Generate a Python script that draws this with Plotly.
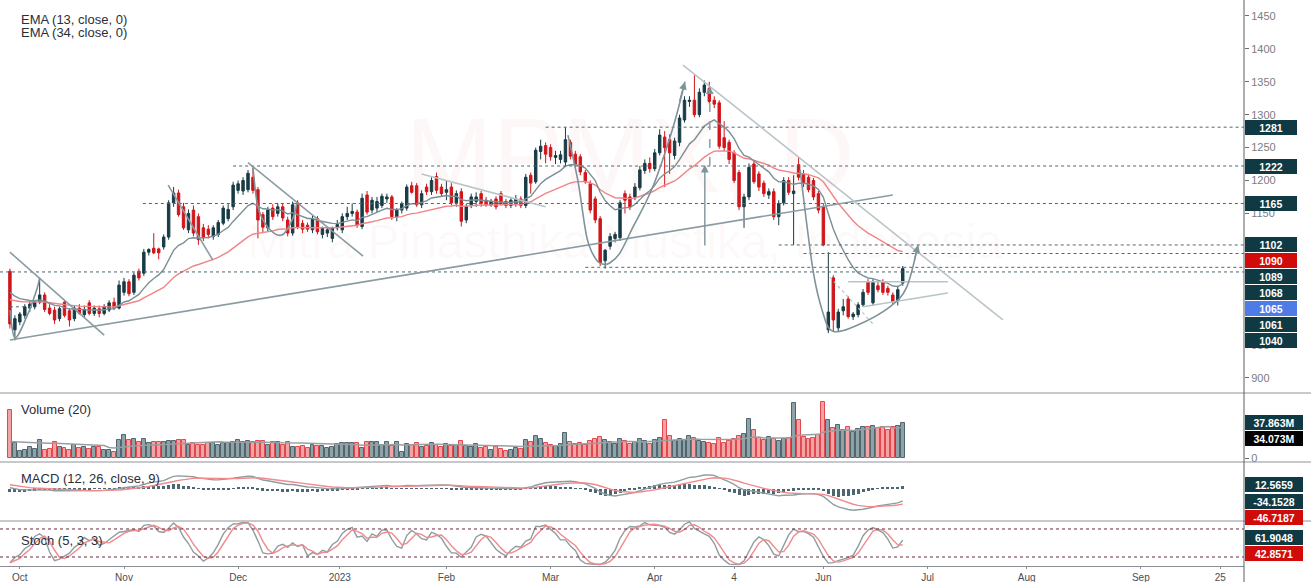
import numpy as np
import pandas as pd
import plotly.graph_objects as go

# ---------------- data ----------------
open_ = [1062, 973, 985, 995, 1006, 1008, 1015, 1026, 1006, 1003, 990, 1015, 1002, 990, 1006, 996, 1014, 998, 1005, 998,
         1003, 1015, 1006, 1030, 1046, 1030, 1062, 1059, 1091, 1097, 1096, 1099, 1114, 1166, 1181, 1160, 1125, 1155, 1145, 1128,
         1126, 1115, 1118, 1135, 1142, 1160, 1185, 1184, 1186, 1205, 1186, 1148, 1128, 1158, 1150, 1160, 1140, 1120, 1166, 1135,
         1132, 1125, 1142, 1118, 1120, 1112, 1128, 1125, 1145, 1150, 1152, 1130, 1178, 1155, 1158, 1162, 1172, 1175, 1145, 1155,
         1158, 1192, 1192, 1163, 1190, 1183, 1206, 1190, 1182, 1190, 1166, 1183, 1140, 1163, 1168, 1180, 1170, 1163, 1172, 1180,
         1168, 1162, 1165, 1172, 1162, 1208, 1198, 1244, 1253, 1250, 1235, 1232, 1228, 1258, 1240, 1236, 1212, 1195, 1172, 1142,
         1078, 1100, 1112, 1113, 1180, 1175, 1175, 1189, 1215, 1226, 1218, 1242, 1266, 1262, 1238, 1258, 1292, 1320, 1322, 1300,
         1334, 1340, 1322, 1318, 1265, 1258, 1242, 1212, 1160, 1175, 1225, 1210, 1196, 1178, 1183, 1145, 1166, 1200, 1180, 1224,
         1210, 1205, 1200, 1180, 1160, 973, 1052, 976, 1002, 1020, 993, 996, 1011, 1046, 1014, 1040, 1046, 1036, 1026, 1018,
         1044]
high = [1066, 995, 1000, 1012, 1018, 1018, 1052, 1030, 1012, 1008, 1008, 1018, 1006, 1010, 1012, 1010, 1018, 1010, 1010, 1012,
        1018, 1022, 1048, 1052, 1050, 1060, 1066, 1096, 1097, 1120, 1098, 1118, 1170, 1190, 1186, 1166, 1156, 1162, 1150, 1134,
        1132, 1132, 1140, 1162, 1164, 1198, 1200, 1205, 1216, 1222, 1190, 1152, 1160, 1164, 1166, 1165, 1145, 1168, 1170, 1140,
        1136, 1146, 1146, 1130, 1128, 1130, 1140, 1150, 1160, 1165, 1156, 1180, 1184, 1175, 1175, 1180, 1180, 1178, 1158, 1168,
        1194, 1198, 1196, 1185, 1195, 1205, 1212, 1195, 1200, 1196, 1185, 1188, 1165, 1180, 1182, 1184, 1175, 1172, 1176, 1184,
        1172, 1175, 1178, 1176, 1210, 1212, 1250, 1262, 1258, 1255, 1245, 1245, 1281, 1262, 1245, 1240, 1216, 1200, 1176, 1146,
        1096, 1120, 1122, 1170, 1185, 1180, 1196, 1222, 1232, 1235, 1248, 1278, 1275, 1270, 1265, 1300, 1328, 1328, 1360, 1340,
        1352, 1350, 1328, 1322, 1290, 1262, 1246, 1216, 1180, 1226, 1230, 1214, 1200, 1188, 1188, 1170, 1205, 1205, 1208, 1236,
        1216, 1210, 1204, 1184, 1164, 1091, 1056, 1005, 1020, 1024, 1000, 1015, 1035, 1050, 1050, 1046, 1050, 1040, 1030, 1040,
        1070]
low = [975, 957, 980, 990, 1000, 1004, 1012, 1000, 995, 982, 986, 992, 978, 986, 996, 992, 995, 994, 992, 995,
       1000, 1003, 1004, 1025, 1024, 1026, 1048, 1055, 1086, 1088, 1080, 1095, 1110, 1160, 1145, 1125, 1120, 1115, 1102, 1108,
       1112, 1110, 1114, 1132, 1138, 1155, 1180, 1178, 1182, 1180, 1112, 1120, 1122, 1140, 1145, 1138, 1115, 1116, 1126, 1120,
       1122, 1120, 1118, 1112, 1114, 1106, 1124, 1120, 1140, 1145, 1128, 1126, 1148, 1150, 1152, 1158, 1166, 1140, 1138, 1150,
       1154, 1180, 1160, 1158, 1178, 1178, 1180, 1176, 1170, 1162, 1160, 1130, 1135, 1158, 1160, 1160, 1160, 1160, 1156, 1162,
       1158, 1158, 1160, 1158, 1158, 1180, 1195, 1232, 1226, 1230, 1225, 1226, 1222, 1232, 1220, 1208, 1195, 1150, 1135, 1070,
       1066, 1095, 1106, 1108, 1150, 1155, 1170, 1185, 1210, 1212, 1214, 1238, 1190, 1210, 1232, 1252, 1288, 1312, 1296, 1296,
       1328, 1316, 1310, 1248, 1245, 1225, 1196, 1155, 1128, 1170, 1195, 1184, 1175, 1172, 1140, 1132, 1162, 1178, 1102, 1200,
       1190, 1182, 1170, 1150, 1100, 968, 970, 970, 995, 990, 988, 992, 1008, 1026, 1010, 1030, 1026, 1025, 1012, 1010,
       1040]
close = [982, 990, 997, 1008, 1012, 1015, 1026, 1004, 998, 988, 1005, 995, 988, 1006, 998, 1004, 998, 1006, 998, 1008,
         1014, 1006, 1041, 1046, 1028, 1056, 1052, 1091, 1095, 1090, 1090, 1114, 1166, 1181, 1148, 1128, 1150, 1120, 1110, 1113,
         1118, 1128, 1136, 1158, 1156, 1193, 1195, 1200, 1211, 1185, 1140, 1129, 1155, 1145, 1160, 1143, 1120, 1163, 1130, 1126,
         1126, 1142, 1122, 1128, 1125, 1128, 1133, 1145, 1150, 1153, 1132, 1173, 1152, 1170, 1168, 1176, 1175, 1145, 1155, 1165,
         1190, 1182, 1163, 1180, 1183, 1200, 1185, 1180, 1186, 1166, 1180, 1138, 1160, 1175, 1175, 1165, 1163, 1168, 1160, 1165,
         1162, 1170, 1172, 1162, 1205, 1196, 1246, 1252, 1240, 1236, 1238, 1239, 1262, 1237, 1225, 1213, 1198, 1155, 1140, 1075,
         1094, 1115, 1118, 1166, 1170, 1160, 1190, 1216, 1226, 1218, 1242, 1269, 1250, 1242, 1260, 1295, 1322, 1322, 1300, 1334,
         1345, 1320, 1316, 1252, 1250, 1232, 1200, 1160, 1175, 1220, 1198, 1190, 1180, 1183, 1145, 1165, 1200, 1182, 1184, 1205,
         1196, 1186, 1175, 1155, 1102, 1000, 988, 1000, 1008, 993, 997, 1011, 1030, 1030, 1045, 1034, 1030, 1030, 1016, 1034,
         1066]
volume_m = [52, 15.8, 7.9, 8.6, 11.5, 9.4, 19.5, 8.6, 10, 17.6, 12.2, 10.4, 8.6, 14, 10.4, 12.2, 9.4, 11.5, 11.5, 8.6,
            8.6, 6.8, 19.5, 25, 19.5, 21, 17.6, 20, 15.8, 17.6, 17.6, 17.6, 18.7, 18.7, 19.5, 19.5, 14, 16.5, 14, 14,
            15.8, 15.8, 14, 16.5, 16.5, 17.6, 19.5, 17.6, 18.7, 17.6, 18.7, 18.3, 14, 16.8, 16.8, 14, 16.8, 12.2, 12.2, 13,
            10.4, 14, 13, 13.3, 10.4, 11.5, 14.8, 15.8, 15.8, 15.8, 16.5, 10.4, 17.6, 17.6, 17.6, 14, 17.6, 13, 17.6, 6,
            15, 14, 16, 12, 13, 16, 14, 12, 15, 13, 14, 18, 13, 12, 15, 11, 12, 9, 12, 10,
            8, 9, 11, 10, 19, 17, 24, 20, 16, 14, 13, 15, 27, 17, 15, 16, 14, 18, 20, 23,
            19, 17, 15, 21, 18, 15, 17, 20, 18, 15, 19, 22, 41, 24, 18, 21, 19, 24, 22, 18,
            17, 16, 15, 22, 16, 18, 20, 24, 26, 42, 30, 22, 19, 23, 20, 18, 21, 22, 59, 41,
            23, 20, 22, 25, 61, 41, 32, 36, 30, 33, 28, 31, 34, 33, 35, 32, 34, 30, 33, 35,
            38]

tick_pos = [2, 23, 46, 66.5, 88, 109, 130, 146, 164, 185, 205, 228, 244]
tick_text = ["Oct", "Nov", "Dec", "2023", "Feb", "Mar", "Apr", "4", "Jun", "Jul", "Aug", "Sep", "25"]

# indicator values just before the first bar
ema13_start, ema34_start = 1038, 1021
ema12_start, ema26_start, signal_start = 1034, 1026, 14
vol_ma_start = 16

# right-axis labels
price_label_text = ["1281", "1222", "1165", "1102", "1090", "1089", "1068", "1065", "1061", "1040"]
price_label_val = [1281, 1222, 1165, 1102, 1090, 1089, 1068, 1065, 1061, 1040]
price_label_kind = ["d", "d", "d", "d", "r", "d", "d", "b", "d", "d"]
vol_label_text = ["37.863M", "34.073M"]
vol_label_val = [37.863, 34.073]
vol_label_kind = ["d", "k"]
macd_label_text = ["12.5659", "-34.1528", "-46.7187"]
macd_label_val = [12.5659, -34.1528, -46.7187]
macd_label_kind = ["d", "d", "r"]
stoch_label_text = ["61.9048", "42.8571"]
stoch_label_val = [61.9048, 42.8571]
stoch_label_kind = ["d", "r"]

# horizontal levels (start bar, price)
levels = [(108, 1281), (45, 1222), (26.8, 1165), (155, 1102), (160, 1089), (116, 1068), (-2, 1061)]

# ---------------- derived ----------------
n = len(close)
idx = np.arange(n)


def ema(vals, period, prev):
    a = 2.0 / (period + 1)
    out, e = [], prev
    for v in vals:
        e = e + a * (v - e)
        out.append(e)
    return np.array(out)


c = np.array(close, float)
ema13 = ema(c, 13, ema13_start)
ema34 = ema(c, 34, ema34_start)
macd = ema(c, 12, ema12_start) - ema(c, 26, ema26_start)
signal = ema(macd, 9, signal_start)
hist = macd - signal

hs, ls, cs = pd.Series(high, dtype=float), pd.Series(low, dtype=float), pd.Series(close, dtype=float)
hh = hs.rolling(5, min_periods=1).max()
ll = ls.rolling(5, min_periods=1).min()
raw_k = 100 * (cs - ll) / (hh - ll)
stoch_k = raw_k.rolling(3, min_periods=1).mean()
stoch_d = stoch_k.rolling(3, min_periods=1).mean()

vs = pd.Series([vol_ma_start] * 19 + list(volume_m), dtype=float)
vol_ma = vs.rolling(20).mean().iloc[19:].values

UP = "#173c46"
DN = "#d0161b"
up_mask = [cl >= op for op, cl in zip(open_, close)]
vol_fill = ["#8fa2a8" if u else "#f4a3a5" for u in up_mask]
vol_line = ["#4f666e" if u else "#e0494f" for u in up_mask]

# ---------------- layout geometry ----------------
W, H = 1311, 582
MR, MB = 67, 16
PW, PH = W - MR, H - MB
XR = [-2.0, 248.8]


def pdom(top_px, bot_px):
    return [1 - bot_px / PH, 1 - top_px / PH]


dom_price = pdom(0, 393)
dom_vol = pdom(393, 462)
dom_macd = pdom(462, 521)
dom_stoch = pdom(521, PH)
rng_price = [877.0, 1474.3]
rng_vol = [-4.32, 70.2]
rng_macd = [-89.0, 75.0]
rng_stoch = [0.7, 97.1]

fig = go.Figure()

# watermarks
WM = "rgba(235,70,70,0.045)"
fig.add_trace(go.Scatter(x=[125], y=[1222], mode="text", text=["MPMX, D"], hoverinfo="skip",
                         textfont=dict(size=105, color=WM, family="Arial"), showlegend=False))
fig.add_trace(go.Scatter(x=[124], y=[1100], mode="text", text=["Mitra Pinasthika Mustika, Indonesia"], hoverinfo="skip",
                         textfont=dict(size=48, color=WM, family="Arial"), showlegend=False))

fig.add_trace(go.Scatter(x=idx, y=ema34, mode="lines", line=dict(color="#f08587", width=1.4), showlegend=False))
fig.add_trace(go.Scatter(x=idx, y=ema13, mode="lines", line=dict(color="#7b8f96", width=1.4), showlegend=False))

fig.add_trace(go.Candlestick(x=idx, open=open_, high=high, low=low, close=close, whiskerwidth=0,
                             increasing=dict(line=dict(color=UP, width=1), fillcolor=UP),
                             decreasing=dict(line=dict(color=DN, width=1), fillcolor=DN),
                             showlegend=False))

fig.add_trace(go.Bar(x=idx, y=volume_m, yaxis="y2", width=0.8,
                     marker=dict(color=vol_fill, line=dict(color=vol_line, width=1)), showlegend=False))
fig.add_trace(go.Scatter(x=idx, y=vol_ma, yaxis="y2", mode="lines", line=dict(color="#9a9ea0", width=1.5),
                         showlegend=False))

fig.add_trace(go.Bar(x=idx, y=hist, yaxis="y3", width=0.6, marker=dict(color="#4d6770", line=dict(width=0)),
                     showlegend=False))
fig.add_trace(go.Scatter(x=idx, y=macd, yaxis="y3", mode="lines", line=dict(color="#8d9da2", width=1.4),
                         showlegend=False))
fig.add_trace(go.Scatter(x=idx, y=signal, yaxis="y3", mode="lines", line=dict(color="#f08a8c", width=1.4),
                         showlegend=False))

fig.add_trace(go.Scatter(x=idx, y=stoch_k, yaxis="y4", mode="lines", line=dict(color="#8d9da2", width=1.4),
                         showlegend=False))
fig.add_trace(go.Scatter(x=idx, y=stoch_d, yaxis="y4", mode="lines", line=dict(color="#f08a8c", width=1.4),
                         showlegend=False))

shapes = []
DOT = "#4f6770"
for x0, p in levels:
    shapes.append(dict(type="line", xref="x", yref="y", x0=x0, x1=XR[1], y0=p, y1=p,
                       line=dict(color=DOT, width=1, dash="dot")))
shapes.append(dict(type="line", xref="x", yref="y", x0=0, x1=4.6, y0=1008, y1=1008,
                   line=dict(color=DOT, width=1, dash="dot")))

# trend lines (bar index, price)
GL = "#8a9ca2"
LG = "#b9c4c8"
trend_lines = [
    ((0, 957.5), (178, 1178), GL),
    ((135.7, 1375.5), (200.2, 988), LG),
    ((0, 1091), (19, 965), GL),
    ((31.9, 1193), (40.9, 1079), GL),
    ((48, 1227), (71.2, 1085), GL),
    ((83, 1210), (108, 1160), LG),
    ((172, 1008), (189.1, 1029), LG),
    ((169, 1046), (189.1, 1046), LG),
]
for (a, b, col) in trend_lines:
    shapes.append(dict(type="line", xref="x", yref="y", x0=a[0], y0=a[1], x1=b[0], y1=b[1],
                       line=dict(color=col, width=1.6)))
shapes.append(dict(type="line", xref="x", yref="y", x0=165.3, y0=1053, x1=174, y1=982,
                   line=dict(color=LG, width=1.2, dash="dot")))
shapes.append(dict(type="line", xref="x", yref="y", x0=141.1, y0=1222, x1=141.1, y1=1336,
                   line=dict(color="#93a3a8", width=1.6, dash="dash")))


def smooth_path(pts):
    d = "M %.3f,%.3f" % pts[0]
    for i in range(len(pts) - 1):
        p0 = pts[i - 1] if i > 0 else pts[i]
        p1, p2 = pts[i], pts[i + 1]
        p3 = pts[i + 2] if i + 2 < len(pts) else p2
        c1 = (p1[0] + (p2[0] - p0[0]) / 6, p1[1] + (p2[1] - p0[1]) / 6)
        c2 = (p2[0] - (p3[0] - p1[0]) / 6, p2[1] - (p3[1] - p1[1]) / 6)
        d += " C %.3f,%.3f %.3f,%.3f %.3f,%.3f" % (c1 + c2 + p2)
    return d


curves = [
    [(112.5, 1269), (114.5, 1200), (116.3, 1114), (118, 1082), (119.4, 1073), (121, 1075), (123, 1090),
     (125.6, 1129), (129.6, 1190), (133.7, 1281), (136.1, 1350)],
    [(159.3, 1216), (161.9, 1064), (163.9, 999), (165.9, 971), (170.8, 980), (177.4, 1008), (180.8, 1038),
     (183.1, 1102)],
    [(0, 1003), (1, 961), (3.4, 993), (5.4, 1034), (6, 1052)],
    [(49, 1219), (50, 1160), (52, 1129), (54.8, 1117), (56.9, 1140), (57.9, 1166)],
]
for pts in curves:
    shapes.append(dict(type="path", xref="x", yref="y", path=smooth_path(pts),
                       line=dict(color="#7f939a", width=1.6)))

# stoch bands
for lvl in (80, 20):
    shapes.append(dict(type="line", xref="x", yref="y4", x0=XR[0], x1=XR[1], y0=lvl, y1=lvl,
                       line=dict(color="#6a2a3c", width=1, dash="dot")))

# pane separators, right axis line
SEP = "#8e9297"
for ypx in (393, 462, 521):
    yp = 1 - ypx / PH
    shapes.append(dict(type="line", xref="paper", yref="paper", x0=0, x1=W / PW, y0=yp, y1=yp,
                       line=dict(color=SEP, width=1)))
shapes.append(dict(type="line", xref="paper", yref="paper", x0=1, x1=1, y0=-MB / PH, y1=1,
                   line=dict(color="#5a5e63", width=1)))

annotations = []
AC = "#7f939a"
arrows = [
    ((136.1, 1350), (134.9, 1318)),
    ((183.1, 1102), (182.3, 1078)),
    ((140.1, 1224), (140.1, 1099)),
    ((141.1, 1343), (141.1, 1330)),
]
for head, tail in arrows:
    annotations.append(dict(x=head[0], y=head[1], ax=tail[0], ay=tail[1], xref="x", yref="y",
                            axref="x", ayref="y", text="", showarrow=True, arrowhead=2,
                            arrowsize=1.1, arrowwidth=1.4, arrowcolor=AC))

# titles
TF = dict(family="Arial, Liberation Sans, sans-serif", size=13, color="#2a2e39")
for txt, ypx in [("EMA (13, close, 0)", 19), ("EMA (34, close, 0)", 33), ("Volume (20)", 409),
                 ("MACD (12, 26, close, 9)", 478), ("Stoch (5, 3, 3)", 540)]:
    annotations.append(dict(text=txt, xref="paper", yref="paper", x=19 / PW, y=1 - ypx / PH,
                            xanchor="left", yanchor="middle", showarrow=False, font=TF))

BOX = {"d": "#0f3a44", "r": "#d10a0a", "b": "#4f7be6", "k": "#000000"}


def stacked(vals, rng, dom):
    top_px = (1 - dom[1]) * PH
    bot_px = (1 - dom[0]) * PH
    span = bot_px - top_px
    out, prev = [], None
    for v in vals:
        px = top_px + span * (1 - (v - rng[0]) / (rng[1] - rng[0]))
        if prev is not None and px < prev + 16:
            px = prev + 16
        prev = px
        out.append(rng[0] + (1 - (px - top_px) / span) * (rng[1] - rng[0]))
    return out


def add_labels(texts, vals, kinds, rng, dom, yref, width):
    for t, yv, k in zip(texts, stacked(vals, rng, dom), kinds):
        annotations.append(dict(text=t, xref="paper", yref=yref, x=1, xshift=1, y=yv, xanchor="left",
                                yanchor="middle", showarrow=False, bgcolor=BOX[k], width=width, height=11,
                                borderpad=2, borderwidth=0, align="center",
                                font=dict(family="Arial, Liberation Sans, sans-serif", size=10.5,
                                          color="white", weight=700)))


add_labels(price_label_text, price_label_val, price_label_kind, rng_price, dom_price, "y", 48)
add_labels(vol_label_text, vol_label_val, vol_label_kind, rng_vol, dom_vol, "y2", 54)
add_labels(macd_label_text, macd_label_val, macd_label_kind, rng_macd, dom_macd, "y3", 54)
add_labels(stoch_label_text, stoch_label_val, stoch_label_kind, rng_stoch, dom_stoch, "y4", 54)

AXF = dict(family="Arial, Liberation Sans, sans-serif", size=11, color="#7a7d82")
yax_common = dict(side="right", anchor="x", showgrid=False, zeroline=False, showline=False, automargin=False,
                  ticks="outside", ticklen=4, tickcolor="#6a6e73", tickfont=AXF, fixedrange=True)

fig.update_layout(
    width=W, height=H, margin=dict(l=0, r=MR, t=0, b=MB, autoexpand=False),
    paper_bgcolor="white", plot_bgcolor="white", showlegend=False, bargap=0,
    xaxis=dict(range=XR, domain=[0, 1], anchor="y4", tickvals=tick_pos, ticktext=tick_text, automargin=False,
               showgrid=False, zeroline=False, showline=True, linecolor="#8a8e93", linewidth=1,
               ticks="outside", ticklen=2, tickcolor="#8a8e93",
               tickfont=dict(family="Arial, Liberation Sans, sans-serif", size=10, color="#4a4d52"),
               rangeslider=dict(visible=False)),
    yaxis=dict(domain=dom_price, range=rng_price, tickvals=list(range(900, 1451, 50)), **yax_common),
    yaxis2=dict(domain=dom_vol, range=rng_vol, tickvals=[0], ticktext=["0"], **yax_common),
    yaxis3=dict(domain=dom_macd, range=rng_macd, tickvals=[], **yax_common),
    yaxis4=dict(domain=dom_stoch, range=rng_stoch, tickvals=[], **yax_common),
    shapes=shapes, annotations=annotations,
)

fig.write_html("out.html", config={"displayModeBar": False},
               post_script="document.body.style.margin='0';document.body.style.overflow='hidden';")
